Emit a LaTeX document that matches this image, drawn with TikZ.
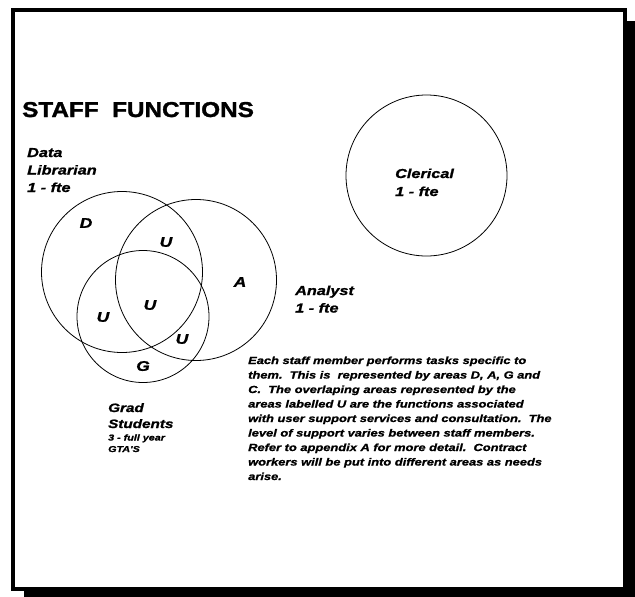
\documentclass[tikz,border=0pt]{standalone}
\usepackage{fontspec}
\setmainfont{Liberation Sans}
\newfontfamily\widefont[FakeStretch=1.25,FakeBold=1.2]{Liberation Sans}
\newfontfamily\titlefont[FakeStretch=1.13,FakeBold=1.5]{Liberation Sans}
\begin{document}
\begin{tikzpicture}[x=1pt,y=-1pt,
  lbl/.style={font=\widefont\fontsize{13}{17.5}\selectfont\bfseries\itshape, align=left, anchor=base west, inner sep=0pt},
  area/.style={font=\widefont\fontsize{14}{14}\selectfont\bfseries\itshape, inner sep=0pt},
  ring/.style={draw=black, line width=0.8pt}]
\useasboundingbox (0,0) rectangle (635,597);
% shadow and frame
\fill[black] (24,21) rectangle (635,597);
\draw[line width=4pt, fill=white] (13,10) rectangle (625,589);
% title
\node[anchor=base west, inner sep=0pt, font=\titlefont\fontsize{21.5}{21.5}\selectfont\bfseries] (title) at (22,117) {STAFF\ \ FUNCTIONS};
% circles
\draw[ring] (122,272) circle (80.5);
\draw[ring] (196,280) circle (80.5);
\draw[ring] (143,316.5) circle (66);
\draw[ring] (426.5,175.5) circle (80.5);
% labels (anchor = baseline of last line)
\node[lbl] (dl) at (27,192) {Data\\Librarian\\1 - fte};
\node[lbl, font=\widefont\fontsize{13}{18}\selectfont\bfseries\itshape] (cl) at (395,196) {Clerical\\1 - fte};
\node[lbl, font=\widefont\fontsize{13}{17.5}\selectfont\bfseries\itshape] (an) at (295,312.5) {Analyst\\1 - fte};
\node[lbl, font=\widefont\fontsize{12.2}{16}\selectfont\bfseries\itshape] (gs) at (108,428) {Grad\\Students};
\node[lbl, font=\widefont\fontsize{8.6}{11.5}\selectfont\bfseries\itshape] (gta) at (108,452) {3 - full year\\GTA'S};
% area letters
\node[area] (aD) at (86,223) {D};
\node[area] (aU1) at (166,242) {U};
\node[area] (aA) at (240,282) {A};
\node[area] (aU2) at (150,305) {U};
\node[area] (aU3) at (103,317) {U};
\node[area] (aU4) at (182,339) {U};
\node[area] (aG) at (143,366) {G};
% paragraph
\node[lbl, font=\widefont\fontsize{10.3}{14.5}\selectfont\bfseries\itshape] (para) at (248,480) {Each staff member performs tasks specific to\\
them.\ \ This is\ \ represented by areas D, A, G and\\
C.\ \ The overlaping areas represented by the\\
areas labelled U are the functions associated\\
with user support services and consultation.\ \ The\\
level of support varies between staff members.\\
Refer to appendix A for more detail.\ \ Contract\\
workers will be put into different areas as needs\\
arise.};
\end{tikzpicture}
\end{document}
